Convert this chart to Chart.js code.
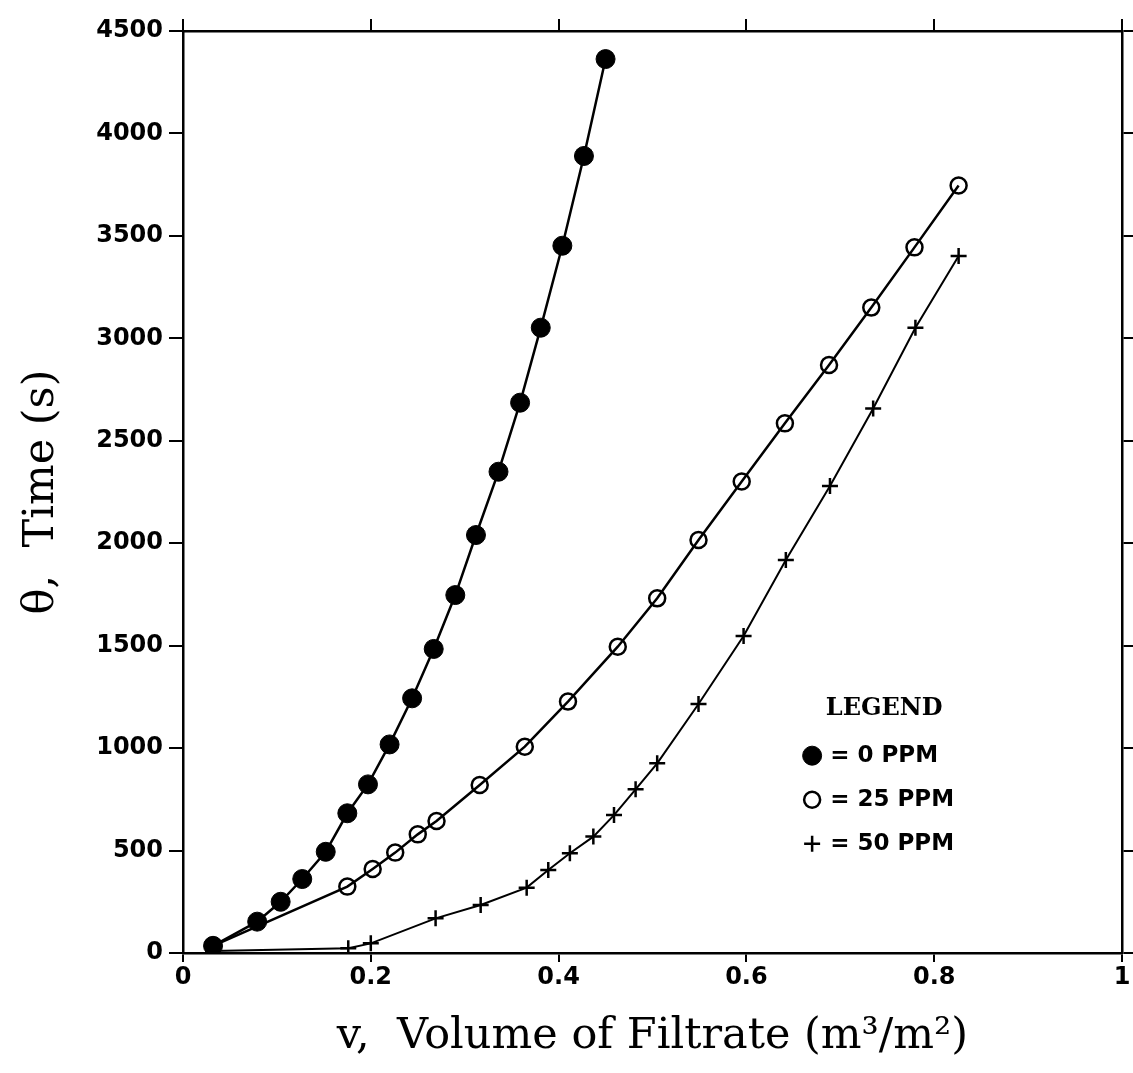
<!DOCTYPE html>
<html>
<head>
<meta charset="utf-8">
<script src="https://cdn.jsdelivr.net/npm/chart.js@4.4.1/dist/chart.umd.min.js"></script>
<style>
  body { margin: 0; background: #fff; }
  #wrap { width: 1133px; height: 1073px; }
</style>
</head>
<body>
<div id="wrap"><canvas id="filtChart" width="1133" height="1073"></canvas></div>
<script>
// data: v (m3/m2) vs time (s)
const vol0 = [0.032,0.079,0.104,0.127,0.152,0.175,0.197,0.220,0.244,0.267,0.290,0.312,0.336,0.359,0.381,0.404,0.427,0.450];
const time0 = [35,153,250,361,494,682,823,1018,1243,1484,1747,2040,2349,2686,3052,3452,3890,4363];

const vol25 = [0.032,0.175,0.202,0.226,0.250,0.270,0.316,0.364,0.410,0.463,0.505,0.549,0.595,0.641,0.688,0.733,0.779,0.826];
const time25 = [35,324,410,490,579,644,820,1007,1227,1495,1731,2016,2301,2585,2870,3150,3444,3746];

const vol50 = [0.032,0.176,0.200,0.269,0.317,0.366,0.389,0.412,0.437,0.459,0.482,0.505,0.549,0.597,0.642,0.689,0.735,0.780,0.826];
const time50 = [10,23,47,169,234,319,405,487,568,673,799,926,1215,1547,1918,2279,2658,3052,3402];

const xTicks = [0, 0.2, 0.4, 0.6, 0.8, 1];
const xTickLabels = ["0", "0.2", "0.4", "0.6", "0.8", "1"];
const yTicks = [0,500,1000,1500,2000,2500,3000,3500,4000,4500];

const legendTitle = "LEGEND";
const legendLabels = ["= 0 PPM", "= 25 PPM", "= 50 PPM"];

function pts(xs, ys) {
  return xs.map((x, i) => ({ x: x, y: ys[i] }));
}

const tickFont = { family: "DejaVu Sans", weight: "bold", size: 24 };
const titleFont = { family: "DejaVu Serif", size: 43 };

function setTicks(values) {
  return function (scale) {
    scale.ticks = values.map(v => ({ value: v }));
  };
}

// legend drawn inside the plot, like the original
const insideLegend = {
  id: 'insideLegend',
  afterDatasetsDraw(chart) {
    const ctx = chart.ctx;
    const a = chart.chartArea;
    const x0 = a.left + (a.right - a.left) * 0.67;
    const y0 = a.top + (a.bottom - a.top) * 0.735;
    ctx.save();
    ctx.fillStyle = '#000';
    ctx.textBaseline = 'middle';
    ctx.font = 'bold 24px "DejaVu Serif"';
    ctx.textAlign = 'center';
    ctx.fillText(legendTitle, x0 + 72, y0);
    ctx.font = 'bold 23px "DejaVu Sans"';
    ctx.textAlign = 'left';
    chart.data.datasets.forEach((ds, i) => {
      const yy = y0 + 47 + i * 44;
      ctx.strokeStyle = '#000';
      ctx.fillStyle = ds.pointBackgroundColor;
      ctx.lineWidth = ds.pointBorderWidth;
      Chart.helpers.drawPoint(ctx, {
        pointStyle: ds.pointStyle,
        radius: ds.pointRadius,
        borderWidth: ds.pointBorderWidth,
        rotation: 0
      }, x0, yy);
      ctx.fillStyle = '#000';
      ctx.fillText(legendLabels[i], x0 + 18, yy);
    });
    ctx.restore();
  }
};

const axisBorder = { display: true, color: '#000', width: 2.5 };

new Chart(document.getElementById('filtChart'), {
  type: 'scatter',
  data: {
    datasets: [
      {
        label: '0 PPM',
        data: pts(vol0, time0),
        showLine: true,
        borderColor: '#000',
        borderWidth: 2.5,
        pointStyle: 'circle',
        pointRadius: 9.5,
        pointBackgroundColor: '#000',
        pointBorderColor: '#000',
        pointBorderWidth: 1
      },
      {
        label: '25 PPM',
        data: pts(vol25, time25),
        showLine: true,
        borderColor: '#000',
        borderWidth: 2.5,
        pointStyle: 'circle',
        pointRadius: 8,
        pointBackgroundColor: 'rgba(0,0,0,0)',
        pointBorderColor: '#000',
        pointBorderWidth: 2.5
      },
      {
        label: '50 PPM',
        data: pts(vol50, time50),
        showLine: true,
        borderColor: '#000',
        borderWidth: 2,
        pointStyle: 'cross',
        pointRadius: 8,
        pointBackgroundColor: '#000',
        pointBorderColor: '#000',
        pointBorderWidth: 2.5
      }
    ]
  },
  options: {
    responsive: false,
    animation: false,
    layout: { padding: 0 },
    plugins: {
      legend: { display: false },
      tooltip: { enabled: false }
    },
    scales: {
      x: {
        type: 'linear',
        position: 'bottom',
        min: 0, max: 1,
        afterBuildTicks: setTicks(xTicks),
        afterFit(s) { s.height = 120; },
        grid: { drawOnChartArea: false, color: '#000', lineWidth: 2, tickLength: 9 },
        border: axisBorder,
        ticks: {
          color: '#000', font: tickFont, padding: 1, maxRotation: 0,
          callback: (v) => xTickLabels[xTicks.indexOf(v)]
        },
        title: {
          display: true,
          text: 'v,  Volume of Filtrate (m³/m²)',
          color: '#000', font: titleFont,
          padding: { top: 0, bottom: 10 }
        }
      },
      x2: {
        type: 'linear',
        position: 'top',
        min: 0, max: 1,
        afterBuildTicks: setTicks(xTicks),
        afterFit(s) { s.height = 31; },
        grid: { drawOnChartArea: false, color: '#000', lineWidth: 2, tickLength: 12 },
        border: axisBorder,
        ticks: { display: false }
      },
      y: {
        type: 'linear',
        position: 'left',
        min: 0, max: 4500,
        afterBuildTicks: setTicks(yTicks),
        afterFit(s) { s.width = 183; },
        grid: { drawOnChartArea: false, color: '#000', lineWidth: 2, tickLength: 14 },
        border: axisBorder,
        ticks: { color: '#000', font: tickFont, padding: 6, callback: (v) => String(v) },
        title: {
          display: true,
          text: 'θ,  Time (s)',
          color: '#000', font: titleFont,
          padding: { top: 16, bottom: 0 }
        }
      },
      y2: {
        type: 'linear',
        position: 'right',
        min: 0, max: 4500,
        afterBuildTicks: setTicks(yTicks),
        afterFit(s) { s.width = 11; },
        grid: { drawOnChartArea: false, color: '#000', lineWidth: 2, tickLength: 11 },
        border: axisBorder,
        ticks: { display: false }
      }
    }
  },
  plugins: [insideLegend]
});
</script>
</body>
</html>
